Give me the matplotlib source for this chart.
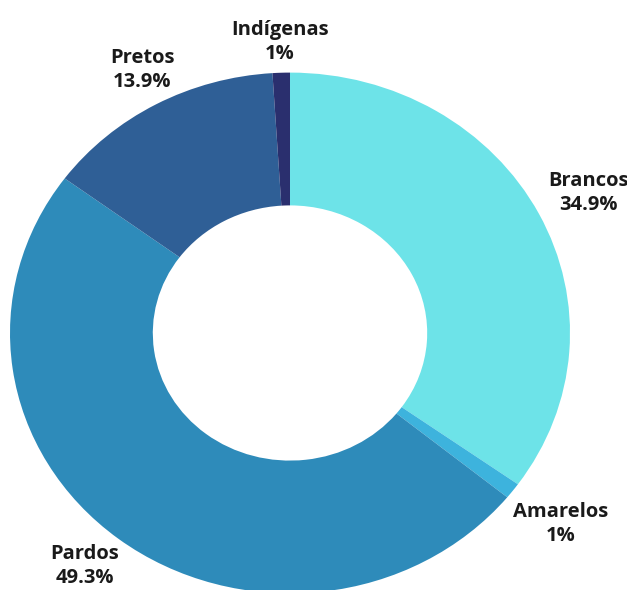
import matplotlib.pyplot as plt

# group shares (%), clockwise from the top
labels = ['Brancos', 'Amarelos', 'Pardos', 'Pretos', 'Indígenas']
values = [34.9, 1, 49.3, 13.9, 1]
pct_text = ['34.9%', '1%', '49.3%', '13.9%', '1%']
colors = ['#6de3e8', '#3db3dd', '#2e8bba', '#2f5f96', '#2a2f6e']

# label anchor positions in pixels (x from left, y from top)
label_pos = [(588, 193), (561, 524), (85, 566), (142, 70), (280, 42)]

W, H = 627, 590
K = 0.93  # the source image is slightly squashed vertically

fig = plt.figure(figsize=(W / 100, H / 100), dpi=100)
ax = fig.add_axes([0, 0, 1, 1])

cx, cy, r = 290, (H - 333) / K, 280
ax.pie(values, colors=colors, startangle=90, counterclock=False,
       center=(cx, cy), radius=r, frame=True,
       wedgeprops=dict(width=r * 0.51, linewidth=0))
ax.set_aspect('auto')
ax.set_xlim(0, W)
ax.set_ylim(0, H / K)
ax.axis('off')

for name, pct, (x, y) in zip(labels, pct_text, label_pos):
    ax.text(x, (H - y) / K, name + '\n' + pct, ha='center', va='center',
            fontsize=14.5, fontweight='bold', family='Open Sans',
            color='#1a1a1a', linespacing=1.25)

fig.savefig('out.png', dpi=100)
